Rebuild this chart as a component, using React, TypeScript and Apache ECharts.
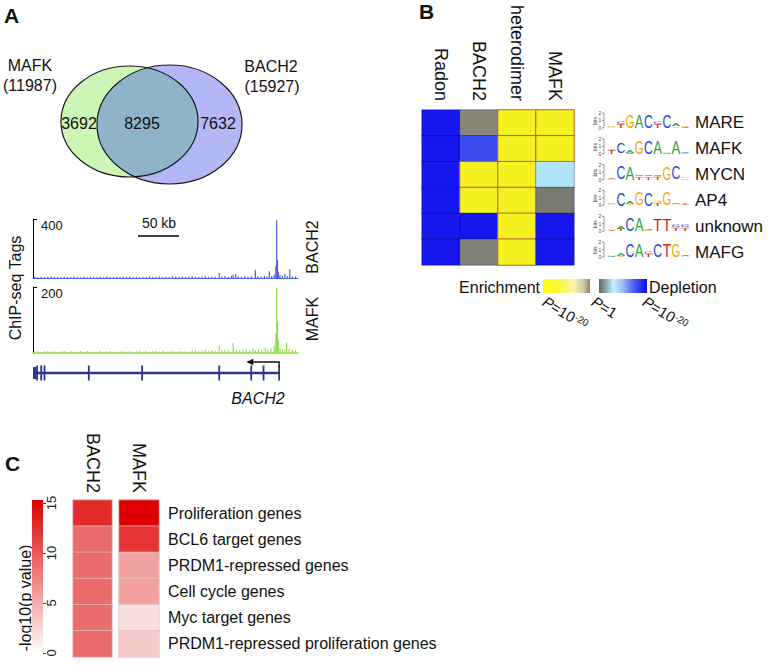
import React, { useEffect, useRef } from "react";
import * as echarts from "echarts";

const FONT = "'Liberation Sans', Arial, Helvetica, sans-serif";
const INK = "#111111";

// ---------- Panel A : Venn ----------
const vennNames = ["MAFK", "BACH2"];
const vennTotals = [11987, 15927];
const vennCounts = [3692, 8295, 7632]; // MAFK only, shared, BACH2 only

// ---------- Panel A : ChIP-seq tracks (position kb, tags) ----------
const trackNames = ["BACH2", "MAFK"];
const trackMax = [400, 200];
const bach2Signal = [
  [2, 8], [6, 5], [10, 9], [14, 6], [18, 7], [22, 10], [26, 6], [30, 8], [34, 5], [38, 9],
  [42, 7], [46, 6], [50, 10], [54, 7], [58, 5], [62, 8], [66, 6], [70, 9], [74, 7], [78, 5],
  [82, 8], [86, 6], [90, 11], [94, 7], [98, 6], [102, 9], [106, 5], [110, 8], [114, 7], [118, 10],
  [122, 6], [126, 8], [130, 5], [134, 9], [138, 7], [142, 12], [146, 6], [150, 8], [154, 10], [158, 7],
  [162, 9], [166, 6], [170, 11], [174, 8], [178, 7], [182, 10], [186, 6], [190, 9], [194, 12], [198, 8],
  [202, 7], [206, 10], [210, 13], [214, 9], [218, 11], [222, 8], [227, 34], [230, 10], [234, 14], [238, 9],
  [242, 16], [244, 22], [247, 25], [250, 12], [254, 9], [258, 13], [262, 10], [266, 14], [271, 54], [274, 12],
  [278, 10], [282, 15], [285, 11], [288, 45], [291, 14], [294, 24], [296, 80], [297, 392], [298, 120], [299, 40],
  [301, 20], [304, 16], [307, 28], [310, 14], [313, 60], [316, 12], [320, 10],
];
const mafkSignal = [
  [2, 5], [6, 6], [10, 4], [14, 5], [18, 6], [22, 4], [26, 6], [30, 4], [34, 5], [38, 7],
  [42, 4], [46, 6], [50, 4], [54, 5], [58, 6], [62, 4], [66, 6], [70, 4], [74, 5], [78, 4],
  [82, 6], [86, 4], [90, 5], [94, 6], [98, 4], [102, 4], [106, 5], [110, 6], [114, 4], [118, 6],
  [122, 4], [126, 5], [130, 7], [134, 4], [138, 6], [142, 4], [146, 5], [150, 6], [154, 4], [158, 6],
  [162, 4], [166, 5], [170, 7], [174, 4], [178, 6], [182, 5], [186, 6], [190, 4], [194, 6], [198, 8],
  [202, 5], [206, 6], [210, 9], [214, 6], [218, 8], [222, 7], [227, 22], [230, 9], [234, 10], [238, 8],
  [244, 30], [248, 9], [252, 8], [256, 10], [260, 11], [264, 8], [268, 14], [271, 9], [275, 11], [279, 9],
  [283, 16], [286, 10], [290, 13], [294, 22], [296, 60], [297, 196], [298, 97], [299, 40], [301, 14], [304, 11],
  [307, 10], [309, 32], [312, 12], [316, 10], [320, 8],
];
const regionKb = [0, 323];
const scaleBarKb = [128, 178];
const scaleBarLabel = "50 kb";
const geneName = "BACH2";
const geneExons = [[0, 4], [5, 5], [10, 10], [14, 14], [68, 68], [133, 133], [227, 227], [266, 266], [281, 281], [300, 300]];
const tssArrow = [[300, 260]];

// ---------- Panel B : motif heatmap ----------
const motifCols = ["Radon", "BACH2", "heterodimer", "MAFK"];
const motifRows = ["MARE", "MAFK", "MYCN", "AP4", "unknown", "MAFG"];
// signed -log10(P): + enrichment, - depletion
const radonScores = [-20, -20, -20, -20, -20, -20];
const bach2Scores = [1, -15, 20, 20, -20, 0.6];
const heteroScores = [20, 20, 20, 20, 20, 20];
const mafkScores = [20, 20, -5, 0, -20, -20];
const motifLogos = [
  [[["A", 0.12], ["G", 0.12]], [["T", 0.5], ["C", 0.25]], [["G", 1.7]], [["A", 1.7]], [["C", 1.7]], [["T", 0.45], ["C", 0.3]], [["C", 1.7]], [["G", 0.2], ["A", 0.35]], [["C", 0.12], ["G", 0.12]]],
  [[["T", 0.5], ["G", 0.2]], [["C", 1.4]], [["C", 0.15], ["A", 0.35]], [["G", 1.7]], [["C", 1.7]], [["A", 1.7]], [["C", 0.1], ["A", 0.12]], [["A", 1.7]], [["G", 0.12], ["C", 0.12]]],
  [[["A", 0.12], ["T", 0.12]], [["C", 1.7]], [["A", 1.7]], [["T", 0.25], ["G", 0.2], ["C", 0.2]], [["T", 0.25], ["G", 0.2], ["C", 0.2]], [["T", 0.3], ["G", 0.2], ["C", 0.2]], [["G", 1.7]], [["C", 1.7]], [["G", 0.15], ["A", 0.12]]],
  [[["A", 0.12], ["G", 0.12]], [["C", 1.6]], [["G", 0.2], ["A", 0.35]], [["G", 1.6]], [["C", 1.6]], [["T", 0.35], ["G", 0.3]], [["G", 1.6]], [["A", 0.12], ["C", 0.12]], [["T", 0.12], ["G", 0.12]]],
  [[["T", 0.12], ["A", 0.12]], [["T", 0.3], ["A", 0.4]], [["C", 1.6]], [["A", 1.6]], [["G", 0.12], ["C", 0.12]], [["T", 1.5]], [["T", 1.5]], [["T", 0.35], ["G", 0.25], ["C", 0.25]], [["T", 0.35], ["G", 0.25], ["C", 0.25]]],
  [[["C", 0.12], ["A", 0.12]], [["G", 0.2], ["A", 0.35]], [["C", 1.6]], [["A", 1.6]], [["T", 0.4], ["C", 0.3]], [["C", 1.6]], [["T", 1.6]], [["G", 1.6]], [["A", 0.12], ["C", 0.12]]],
];
const legendB = ["Enrichment", "Depletion"];
const legendBTicks = [["10", "-20"], ["1", ""], ["10", "-20"]];

// ---------- Panel C : gene-set heatmap ----------
const geneSets = [
  "Proliferation genes",
  "BCL6 target genes",
  "PRDM1-repressed genes",
  "Cell cycle genes",
  "Myc target genes",
  "PRDM1-repressed proliferation genes",
];
const gsCols = ["BACH2", "MAFK"];
const gsBach2 = [12.6, 8.9, 8.8, 8.9, 8.8, 8.9];
const gsMafk = [15.3, 12.2, 5.6, 5.7, 2.0, 3.1];
const gsMax = 15.3;
const gsTitle = "-log10(p value)";

const panelLetters = [["A", 4, 5], ["B", 419, 1], ["C", 5, 453]];

// ---------- helpers ----------
const logoColors: Record<string, string> = { A: "#2fa33a", C: "#2445d6", G: "#f4a700", T: "#cf2520" };
const letterW: Record<string, number> = { A: 0.667, C: 0.722, G: 0.778, T: 0.611 };

function buildLogo(cols: any[], x0: number, baseY: number) {
  const els: any[] = [];
  const colW = 9.2;
  const pxPerBit = 7.8;
  const fs = 12;
  els.push({ type: "line", shape: { x1: x0 - 3, y1: baseY - 15, x2: x0 - 3, y2: baseY }, style: { stroke: "#555", lineWidth: 0.6 } });
  [0, 1, 2].forEach((b) => {
    els.push({ type: "line", shape: { x1: x0 - 5, y1: baseY - b * 7.5, x2: x0 - 3, y2: baseY - b * 7.5 }, style: { stroke: "#555", lineWidth: 0.6 } });
    els.push({ type: "text", x: x0 - 7, y: baseY - b * 7.5, style: { text: String(b), fontSize: 5, fontFamily: FONT, fill: "#444", align: "center", verticalAlign: "middle" } });
  });
  els.push({ type: "text", x: x0 - 12, y: baseY - 7, rotation: Math.PI / 2, style: { text: "bits", fontSize: 5, fontFamily: FONT, fill: "#444", align: "center", verticalAlign: "middle" } });
  cols.forEach((col: any[], ci: number) => {
    let cum = 0;
    const cx = x0 + 4.6 + ci * colW;
    col.forEach(([L, bits]: [string, number]) => {
      const h = bits * pxPerBit;
      const cy = baseY - cum - h / 2;
      cum += h;
      els.push({
        type: "text",
        x: cx,
        y: cy,
        scaleX: 8.8 / (letterW[L] * fs),
        scaleY: h / (0.716 * fs),
        style: { text: L, fontSize: fs, fontFamily: FONT, fill: logoColors[L], align: "center", verticalAlign: "middle" },
      });
    });
  });
  return els;
}

function vennLens(G: any, B: any) {
  const inside = (e: any, x: number, y: number) => ((x - e.cx) / e.rx) ** 2 + ((y - e.cy) / e.ry) ** 2 <= 1;
  const pts: number[][] = [];
  for (let i = 0; i <= 720; i++) {
    const t = -Math.PI + (i * 2 * Math.PI) / 720;
    const x = G.cx + G.rx * Math.cos(t), y = G.cy + G.ry * Math.sin(t);
    if (inside(B, x, y)) pts.push([x, y]);
  }
  for (let i = 0; i <= 720; i++) {
    const t = (i * 2 * Math.PI) / 720;
    const x = B.cx + B.rx * Math.cos(t), y = B.cy + B.ry * Math.sin(t);
    if (inside(G, x, y)) pts.push([x, y]);
  }
  return pts;
}

function buildOption() {
  const GE = { cx: 129.5, cy: 121.5, rx: 68.5, ry: 55.5 };
  const BE = { cx: 169.5, cy: 124.5, rx: 72.5, ry: 59.5 };
  const graphic: any[] = [];
  const txt = (text: string, x: number, y: number, extra: any = {}, el: any = {}) => ({
    type: "text", x, y, ...el,
    style: { text, fontSize: 16, fontFamily: FONT, fill: INK, align: "center", verticalAlign: "middle", ...extra },
  });

  panelLetters.forEach(([t, x, y]) =>
    graphic.push(txt(t as string, x as number, y as number, { fontSize: 21, fontWeight: "bold", align: "left", verticalAlign: "top" }))
  );

  // Venn
  graphic.push({ type: "ellipse", shape: GE, style: { fill: "#cdf6b6", stroke: "none" } });
  graphic.push({ type: "ellipse", shape: BE, style: { fill: "#b3b7f6", stroke: "none" } });
  graphic.push({ type: "polygon", shape: { points: vennLens(GE, BE) }, style: { fill: "#8fb3c9", stroke: "none" } });
  graphic.push({ type: "ellipse", shape: GE, style: { fill: "none", stroke: "#1a1a1a", lineWidth: 1.2 } });
  graphic.push({ type: "ellipse", shape: BE, style: { fill: "none", stroke: "#1a1a1a", lineWidth: 1.2 } });
  graphic.push(txt(vennNames[0], 30, 65));
  graphic.push(txt(`(${vennTotals[0]})`, 30, 85));
  graphic.push(txt(vennNames[1], 271, 66));
  graphic.push(txt(`(${vennTotals[1]})`, 272, 86));
  graphic.push(txt(String(vennCounts[0]), 79, 123));
  graphic.push(txt(String(vennCounts[1]), 142, 123));
  graphic.push(txt(String(vennCounts[2]), 218, 123));

  // tracks labels
  graphic.push(txt("ChIP-seq Tags", 15, 288, {}, { rotation: Math.PI / 2 }));
  graphic.push(txt(trackNames[0], 312, 247, {}, { rotation: Math.PI / 2 }));
  graphic.push(txt(trackNames[1], 312, 319, {}, { rotation: Math.PI / 2 }));
  graphic.push(txt(scaleBarLabel, 159, 223, { fontSize: 14 }));
  graphic.push(txt(geneName, 258, 398, { fontStyle: "italic" }));

  // Panel B logos
  motifLogos.forEach((cols, i) => {
    const baseY = 110 + (155 / 6) * (i + 0.5) + 5;
    graphic.push(...buildLogo(cols, 607, baseY));
  });

  // Panel B legend
  graphic.push(txt(legendB[0], 540, 287, { align: "right" }));
  graphic.push(txt(legendB[1], 649, 287, { align: "left" }));
  graphic.push({
    type: "rect", shape: { x: 543, y: 279, width: 47, height: 14 },
    style: {
      fill: new echarts.graphic.LinearGradient(0, 0, 1, 0, [
        { offset: 0, color: "#ffff1a" }, { offset: 0.35, color: "#fbfa3c" }, { offset: 0.65, color: "#f8f4b0" },
        { offset: 0.85, color: "#d2cfa0" }, { offset: 1, color: "#85856c" },
      ]),
    },
  });
  graphic.push({
    type: "rect", shape: { x: 599, y: 279, width: 48, height: 14 },
    style: {
      fill: new echarts.graphic.LinearGradient(0, 0, 1, 0, [
        { offset: 0, color: "#5f6767" }, { offset: 0.15, color: "#8aa8ae" }, { offset: 0.3, color: "#c8f2ff" },
        { offset: 0.5, color: "#a0b8f8" }, { offset: 0.75, color: "#4058f2" }, { offset: 1, color: "#0c0cee" },
      ]),
    },
  });
  const pRich = {
    i: { fontStyle: "italic", fontSize: 15, fontFamily: FONT, fill: INK },
    n: { fontSize: 15, fontFamily: FONT, fill: INK },
    s: { fontSize: 10, fontFamily: FONT, fill: INK, verticalAlign: "top", lineHeight: 10 },
  };
  [[544, 300], [593, 300], [644, 300]].forEach(([x, y], k) => {
    const [base, sup] = legendBTicks[k];
    graphic.push({
      type: "text", x, y, rotation: -0.55,
      style: {
        text: `{i|P}{n|=${base}}` + (sup ? `{s|${sup}}` : ""),
        rich: pRich, fontSize: 15, fontFamily: FONT, fill: INK, align: "left", verticalAlign: "middle",
      },
    });
  });

  // Panel C title
  graphic.push(txt(gsTitle, 25, 598, { fontSize: 16 }, { rotation: Math.PI / 2 }));

  const hidden = { show: false };
  const grids = [
    { left: 33, top: 219, width: 265, height: 59 },
    { left: 33, top: 287, width: 265, height: 66 },
    { left: 33, top: 358, width: 265, height: 30 },
    { left: 422, top: 110, width: 152, height: 155 },
    { left: 32, top: 500, width: 11, height: 153 },
    { left: 73, top: 500, width: 39, height: 157 },
    { left: 119, top: 500, width: 40, height: 157 },
  ].map((g) => ({ ...g, containLabel: false, outerBoundsMode: "none" }));

  const trackX = (i: number, color: string, w: number) => ({
    type: "value", gridIndex: i, min: regionKb[0], max: regionKb[1],
    axisLine: { show: true, onZero: true, lineStyle: { color, width: w } },
    axisTick: hidden, axisLabel: hidden, splitLine: hidden,
  });
  const trackY = (i: number) => ({
    type: "value", gridIndex: i, min: 0, max: trackMax[i], interval: trackMax[i],
    axisLine: { show: true, lineStyle: { color: "#000", width: 1 } },
    axisTick: { show: true, inside: true, length: 4, lineStyle: { color: "#000" } },
    axisLabel: { show: true, inside: true, showMinLabel: false, margin: 8, verticalAlign: "top", fontSize: 13, fontFamily: FONT, color: INK },
    splitLine: hidden,
  });

  const xAxis: any[] = [
    trackX(0, "#4d5fe0", 1),
    trackX(1, "#8fe04c", 1.6),
    { type: "value", gridIndex: 2, min: regionKb[0], max: regionKb[1], show: false },
    {
      type: "category", gridIndex: 3, data: motifCols, position: "top",
      axisLine: hidden, axisTick: hidden, splitLine: hidden,
      axisLabel: { rotate: 90, margin: 9, fontSize: 18, fontFamily: FONT, color: INK },
    },
    { type: "category", gridIndex: 4, data: [""], show: false },
    ...gsCols.map((c, k) => ({
      type: "category", gridIndex: 5 + k, data: [c], position: "top",
      axisLine: hidden, axisTick: hidden, splitLine: hidden,
      axisLabel: { rotate: 90, margin: 7, fontSize: 18, fontFamily: FONT, color: INK },
    })),
  ];
  const yAxis: any[] = [
    trackY(0),
    trackY(1),
    { type: "value", gridIndex: 2, min: 0, max: 1, show: false },
    {
      type: "category", gridIndex: 3, data: motifRows, inverse: true, position: "right",
      axisLine: hidden, axisTick: hidden, splitLine: hidden,
      axisLabel: { margin: 121, fontSize: 17, fontFamily: FONT, color: INK },
    },
    {
      type: "value", gridIndex: 4, min: 0, max: gsMax, interval: 5, position: "right",
      axisLine: hidden, splitLine: hidden,
      axisTick: { show: true, length: 3, lineStyle: { color: "#444" } },
      axisLabel: { rotate: 90, margin: 2, fontSize: 13, fontFamily: FONT, color: "#222" },
    },
    { type: "category", gridIndex: 5, data: geneSets, inverse: true, show: false },
    {
      type: "category", gridIndex: 6, data: geneSets, inverse: true, position: "right",
      axisLine: hidden, axisTick: hidden, splitLine: hidden,
      axisLabel: { margin: 9, fontSize: 16, fontFamily: FONT, color: INK },
    },
  ];

  const motifData: any[] = [];
  [radonScores, bach2Scores, heteroScores, mafkScores].forEach((col, ci) =>
    col.forEach((v, ri) =>
      motifData.push({
        value: [ci, ri, v],
        itemStyle: { borderColor: v > 5 ? "#b4622c" : "rgba(10,10,80,0.35)", borderWidth: 1 },
      })
    )
  );

  const series: any[] = [
    { type: "bar", xAxisIndex: 0, yAxisIndex: 0, data: bach2Signal, barWidth: 1.2, itemStyle: { color: "#4d5fe0" }, silent: true },
    {
      type: "line", xAxisIndex: 0, yAxisIndex: 0, symbol: "none", silent: true,
      data: [[scaleBarKb[0], 285], [scaleBarKb[1], 285]], lineStyle: { color: "#000", width: 1.6 },
    },
    { type: "bar", xAxisIndex: 1, yAxisIndex: 1, data: mafkSignal, barWidth: 1.2, itemStyle: { color: "#8fe04c" }, silent: true },
    {
      type: "line", xAxisIndex: 2, yAxisIndex: 2, symbol: "none", silent: true,
      data: [[geneExons[0][0], 0.5], [geneExons[geneExons.length - 1][1], 0.5]],
      lineStyle: { color: "#2e3592", width: 2.4 },
    },
    {
      type: "custom", xAxisIndex: 2, yAxisIndex: 2, data: geneExons, encode: { x: [0, 1] }, silent: true,
      renderItem: (params: any, api: any) => {
        const p1 = api.coord([api.value(0), 0.5]);
        const p2 = api.coord([api.value(1), 0.5]);
        const first = params.dataIndex === 0;
        const h = first ? 12 : 15;
        const w = Math.max(p2[0] - p1[0], 1.8);
        return { type: "rect", shape: { x: first ? p1[0] : p1[0] - 0.9, y: p1[1] - h / 2, width: w, height: h }, style: { fill: "#2a3190" } };
      },
    },
    {
      type: "custom", xAxisIndex: 2, yAxisIndex: 2, data: tssArrow, encode: { x: [0, 1] }, silent: true,
      renderItem: (params: any, api: any) => {
        const a = api.coord([api.value(0), 0.5]);
        const b = api.coord([api.value(1), 0.5]);
        const yTop = a[1] - 11;
        return {
          type: "group",
          children: [
            { type: "polyline", shape: { points: [[a[0], a[1] - 6], [a[0], yTop], [b[0] + 4, yTop]] }, style: { stroke: "#111", lineWidth: 1.4, fill: null } },
            { type: "polygon", shape: { points: [[b[0], yTop], [b[0] + 7, yTop - 3.2], [b[0] + 7, yTop + 3.2]] }, style: { fill: "#111" } },
          ],
        };
      },
    },
    { type: "heatmap", xAxisIndex: 3, yAxisIndex: 3, data: motifData, silent: true },
    {
      type: "bar", xAxisIndex: 4, yAxisIndex: 4, data: [gsMax], barWidth: "100%", silent: true,
      itemStyle: {
        color: new echarts.graphic.LinearGradient(0, 0, 0, 1, [
          { offset: 0, color: "#dd0000" }, { offset: 1, color: "#ffffff" },
        ]),
      },
    },
    {
      type: "heatmap", xAxisIndex: 5, yAxisIndex: 5, silent: true,
      data: gsBach2.map((v, i) => [0, i, v]),
      itemStyle: { borderColor: "rgba(215,200,200,0.9)", borderWidth: 0.8 },
    },
    {
      type: "heatmap", xAxisIndex: 6, yAxisIndex: 6, silent: true,
      data: gsMafk.map((v, i) => [0, i, v]),
      itemStyle: { borderColor: "rgba(215,200,200,0.9)", borderWidth: 0.8 },
    },
  ];

  return {
    animation: false,
    backgroundColor: "#ffffff",
    textStyle: { fontFamily: FONT },
    grid: grids,
    xAxis,
    yAxis,
    visualMap: [
      {
        type: "continuous", seriesIndex: 6, min: -20, max: 20, show: false, dimension: 2,
        inRange: { color: ["#1616ee", "#3a4cf0", "#6f90f4", "#b0e4fa", "#7a7a72", "#b9b690", "#f2ee90", "#f6f24a", "#f6f222"] },
      },
      {
        type: "continuous", seriesIndex: [8, 9], min: 0, max: gsMax, show: false, dimension: 2,
        inRange: { color: ["#ffffff", "#dd0000"] },
      },
    ],
    series,
    graphic: { elements: graphic },
  };
}

export default function App() {
  const ref = useRef<HTMLDivElement>(null);
  useEffect(() => {
    if (!ref.current) return;
    const chart = echarts.init(ref.current, null, { renderer: "svg" });
    chart.setOption(buildOption() as any);
    return () => chart.dispose();
  }, []);
  return (
    <div
      ref={ref}
      style={{ position: "absolute", left: 0, top: 0, width: 771, height: 670, background: "#fff" }}
    />
  );
}
